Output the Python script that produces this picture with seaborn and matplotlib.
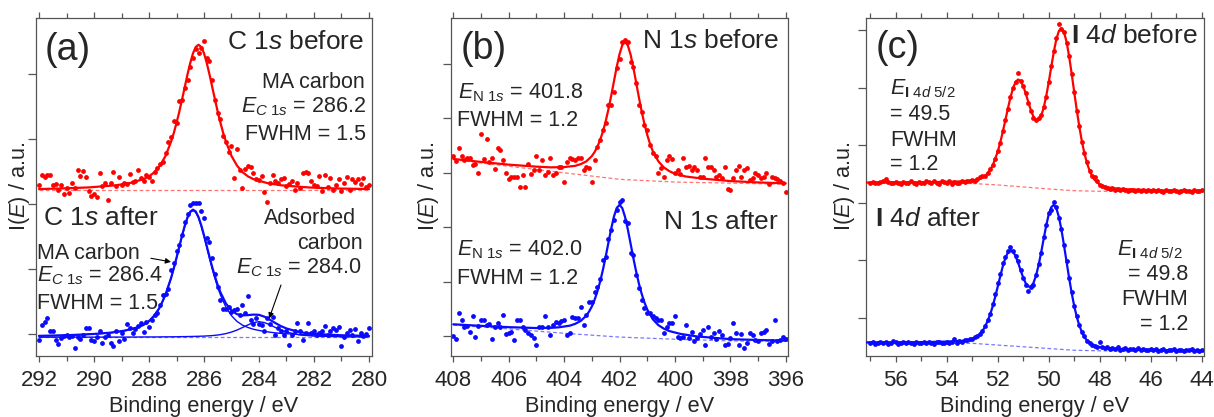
import numpy as np
import pandas as pd
import matplotlib
matplotlib.use("Agg")
import matplotlib.pyplot as plt
from matplotlib.ticker import MultipleLocator, NullFormatter
import seaborn as sns

sns.set_style("ticks")
plt.rcParams["font.family"] = ["Liberation Sans", "DejaVu Sans"]
plt.rcParams["mathtext.fontset"] = "custom"
plt.rcParams["mathtext.rm"] = "Liberation Sans"
plt.rcParams["mathtext.it"] = "Liberation Sans:italic"
plt.rcParams["mathtext.bf"] = "Liberation Sans:bold"

RED = "#ff0000"
BLUE = "#0a0aff"


def grid(a, b):
    # energy grid in 0.1 eV steps, from a down to b
    return list(np.round(np.arange(a, b - 0.05, -0.1), 1))


# ---------------- (a) C 1s ----------------
c1s_before = [2.30, 2.45, 2.41, 2.45, 2.44, 2.30, 2.31, 2.22, 2.30, 2.15,
              2.25, 2.17, 2.33, 2.25, 2.53, 2.43, 2.51, 2.42, 2.20, 2.12,
              2.16, 2.11, 2.47, 2.27, 2.32, 2.06, 2.32, 2.49, 2.27, 2.42,
              2.30, 2.32, 2.31, 2.46, 2.34, 2.36, 2.53, 2.40, 2.36, 2.45,
              2.42, 2.36, 2.50, 2.56, 2.62, 2.64, 2.78, 2.95, 3.03, 3.27,
              3.25, 3.58, 3.60, 3.78, 3.90, 4.10, 4.25, 4.38, 4.33, 4.40,
              4.50, 4.25, 4.20, 3.90, 3.60, 3.40, 3.30, 3.05, 2.95, 2.80,
              2.90, 2.40, 2.85, 2.53, 2.25, 2.54, 2.58, 2.57, 2.48, 2.38,
              2.37, 2.43, 2.19, 2.03, 2.33, 2.44, 2.36, 2.32, 2.39, 2.40,
              2.28, 2.31, 2.36, 2.22, 2.32, 2.25, 2.47, 2.50, 2.48, 2.36,
              2.30, 2.28, 2.43, 2.20, 2.44, 2.26, 2.40, 2.22, 2.30, 2.38,
              2.20, 2.32, 2.42, 2.21, 2.38, 2.34, 2.38, 2.31, 2.40, 2.26,
              2.30]
c1s_after = [-0.09, 0.14, 0.18, 0.25, 0.04, 0.05, -0.09, -0.15, -0.06, -0.03,
             -0.02, -0.05, -0.03, -0.21, -0.04, -0.07, -0.02, 0.09, 0.10, -0.09,
             -0.11, -0.04, 0.04, -0.14, -0.05, -0.01, -0.14, -0.18, 0.04, -0.11,
             0.02, -0.08, 0.16, 0.10, 0.01, 0.07, 0.12, 0.17, 0.03, 0.18,
             0.11, 0.22, 0.29, 0.32, 0.45, 0.60, 0.62, 0.70, 0.98, 1.10,
             1.27, 1.37, 1.52, 1.72, 1.85, 1.98, 2.01, 2.01, 2.01, 1.90,
             1.78, 1.47, 1.42, 1.17, 0.93, 0.73, 0.52, 0.39, 0.39, 0.42,
             0.34, 0.37, 0.39, 0.29, 0.44, 0.33, 0.58, 0.21, 0.16, 0.24,
             0.16, 0.14, 0.04, 0.24, 0.16, 0.26, -0.01, 0.09, 0.04, -0.02,
             0.04, -0.17, -0.01, 0.04, 0.17, 0.04, -0.09, 0.01, 0.17, 0.01,
             0.04, -0.01, 0.01, 0.04, 0.12, -0.01, 0.04, 0.09, 0.06, 0.11,
             -0.18, -0.04, 0.01, 0.06, -0.01, 0.08, -0.10, 0.02, -0.03, 0.00,
             0.10]
c1s_before_fit_x = [292, 291.2, 290.2, 289.2, 288.7, 288.2, 288.0, 287.8, 287.6, 287.4] \
    + grid(287.2, 285.2) + [285.0, 284.8, 284.6, 284.4, 284.2, 283.7, 283.2, 282.2, 281.2, 280]
c1s_before_fit = [2.23, 2.239, 2.255, 2.288, 2.322, 2.382, 2.425, 2.49, 2.591, 2.739,
                  2.956, 3.09, 3.247, 3.417, 3.606, 3.798, 3.993, 4.17, 4.318, 4.416,
                  4.45, 4.416, 4.318, 4.17, 3.993, 3.798, 3.606, 3.417, 3.247, 3.09, 2.956,
                  2.739, 2.591, 2.49, 2.425, 2.382, 2.322, 2.288, 2.255, 2.239, 2.23]
c1s_after_fit_x = [292, 291, 290, 289.4, 288.9, 288.4, 288.2, 288.0, 287.8, 287.6, 287.4, 287.2] \
    + grid(287.1, 285.4) + [285.2, 285.0, 284.8, 284.6, 284.4, 284.2, 284.0, 283.8, 283.6,
                            283.4, 283.2, 283.0, 282.5, 282.0, 281.0, 280.0]
c1s_after_total = [-0.028, -0.019, 0.001, 0.021, 0.051, 0.104, 0.142, 0.199, 0.287, 0.416, 0.606, 0.860,
                   1.009, 1.173, 1.342, 1.512, 1.666, 1.796, 1.883, 1.913, 1.885, 1.80, 1.673, 1.52,
                   1.354, 1.188, 1.027, 0.883, 0.751, 0.64,
                   0.467, 0.362, 0.305, 0.287, 0.291, 0.299, 0.295, 0.266, 0.219, 0.168, 0.121, 0.085,
                   0.026, 0.001, -0.019, -0.029]
c1s_after_ma = [-0.029, -0.021, -0.001, 0.018, 0.048, 0.10, 0.137, 0.194, 0.282, 0.410, 0.599, 0.853,
                1.001, 1.165, 1.333, 1.502, 1.656, 1.785, 1.871, 1.90, 1.871, 1.785, 1.656, 1.502,
                1.333, 1.165, 1.001, 0.853, 0.716, 0.599,
                0.410, 0.282, 0.194, 0.137, 0.10, 0.073, 0.055, 0.040, 0.028, 0.018, 0.010, 0.005,
                -0.009, -0.017, -0.027, -0.034]
c1s_after_ads = [-0.049, -0.048, -0.048, -0.047, -0.047, -0.046, -0.045, -0.045, -0.045, -0.044, -0.043, -0.043,
                 -0.042, -0.042, -0.041, -0.040, -0.040, -0.039, -0.038, -0.037, -0.036, -0.035, -0.033, -0.032,
                 -0.029, -0.027, -0.024, -0.020, -0.015, -0.009,
                 0.007, 0.030, 0.061, 0.10, 0.141, 0.176, 0.19, 0.176, 0.141, 0.10, 0.061, 0.030,
                 -0.015, -0.032, -0.042, -0.045]
c1s_bg_x = [292, 280]
c1s_before_bg = [2.21, 2.21]
c1s_after_bg = [-0.05, -0.05]

# ---------------- (b) N 1s ----------------
n1s_before = [3.31, 3.22, 3.45, 3.30, 3.24, 3.27, 3.28, 3.14, 3.17, 2.99,
              3.72, 3.26, 3.63, 3.19, 3.28, 3.07, 3.45, 3.42, 3.24, 2.99,
              2.88, 2.93, 2.92, 2.93, 2.73, 2.96, 2.73, 3.17, 2.98, 3.05,
              3.31, 3.05, 3.24, 2.96, 3.02, 3.28, 2.96, 2.99, 3.11, 3.11,
              2.84, 3.20, 3.27, 3.25, 3.24, 3.27, 3.28, 3.05, 3.10, 3.08,
              2.84, 3.24, 3.48, 3.60, 3.79, 3.91, 4.25, 4.25, 4.49, 4.92,
              5.10, 5.41, 5.44, 5.41, 5.04, 4.95, 4.65, 4.25, 4.12, 3.88,
              3.79, 3.51, 3.36, 3.30, 2.99, 3.08, 2.93, 3.24, 3.30, 3.25,
              2.99, 3.05, 2.98, 3.27, 3.11, 3.13, 3.05, 3.11, 3.05, 2.93,
              2.93, 3.27, 3.11, 3.10, 3.05, 2.93, 2.96, 2.90, 3.11, 2.71,
              2.68, 2.90, 3.05, 3.13, 2.93, 3.05, 3.08, 2.87, 2.90, 2.99,
              2.96, 2.90, 2.93, 2.99, 2.80, 2.93, 2.90, 2.88, 2.85, 2.82,
              2.64]
n1s_after = [0.00, -0.06, 0.43, 0.30, 0.16, 0.18, 0.08, 0.36, -0.02, 0.18,
             0.29, 0.30, 0.20, 0.22, -0.06, 0.17, 0.23, 0.17, 0.38, 0.03,
             0.06, 0.08, -0.07, 0.29, 0.29, 0.17, 0.11, 0.06, 0.02, -0.04,
             -0.16, 0.17, 0.17, 0.37, 0.16, 0.01, 0.20, 0.26, 0.24, 0.28,
             0.29, 0.02, 0.06, 0.34, 0.33, 0.33, 0.54, 0.20, 0.39, 0.62,
             0.62, 0.80, 0.90, 1.05, 1.40, 1.45, 1.78, 1.95, 2.14, 2.32,
             2.46, 2.50, 2.12, 2.08, 1.52, 1.49, 1.12, 0.88, 0.66, 0.52,
             0.43, 0.42, 0.36, 0.33, 0.29, 0.30, 0.05, 0.17, 0.24, 0.24,
             0.36, -0.01, -0.04, -0.02, 0.20, -0.04, 0.08, -0.10, -0.04, 0.04,
             0.11, -0.16, 0.17, -0.01, 0.05, -0.06, 0.09, 0.01, -0.16, -0.14,
             -0.04, 0.24, 0.06, -0.16, 0.04, -0.22, -0.13, 0.05, 0.01, -0.07,
             -0.10, 0.06, 0.08, 0.11, -0.14, -0.10, 0.29, -0.10, -0.07, -0.01,
             -0.05]
n1s_before_fit_x = [408, 407, 406, 405, 404.5, 404, 403.6, 403.4, 403.2] + grid(403.0, 400.8) \
    + [400.6, 400.4, 400.2, 400.0, 399.6, 399, 398, 397, 396]
n1s_before_fit = [3.255, 3.20, 3.15, 3.113, 3.10, 3.105, 3.128, 3.159, 3.21,
                  3.307, 3.382, 3.477, 3.603, 3.758, 3.947, 4.169, 4.419, 4.686, 4.95, 5.182,
                  5.347, 5.405, 5.342, 5.172, 4.932, 4.659, 4.384, 4.125, 3.895, 3.697, 3.534, 3.399,
                  3.212, 3.098, 3.03, 2.982, 2.931, 2.893, 2.848, 2.823, 2.806]
n1s_after_fit_x = [408, 407, 406, 405, 404.5, 404.2, 403.8, 403.6, 403.4, 403.2] + grid(403.1, 401.0) \
    + [400.8, 400.6, 400.4, 400.2, 399.8, 399.2, 398, 397, 396]
n1s_after_fit = [0.215, 0.186, 0.162, 0.146, 0.149, 0.159, 0.189, 0.223, 0.277, 0.374,
                 0.449, 0.542, 0.666, 0.817, 1.001, 1.216, 1.458, 1.717, 1.974, 2.198, 2.355,
                 2.41, 2.35, 2.187, 1.957, 1.695, 1.43, 1.183, 0.962, 0.773, 0.616, 0.487,
                 0.308, 0.20, 0.135, 0.09, 0.038, -0.009, -0.058, -0.074, -0.085]
n1s_bg_x = [408, 406, 404, 402, 400, 398, 396]
n1s_before_bg = [3.24, 3.12, 3.00, 2.88, 2.83, 2.81, 2.79]
n1s_after_bg = [0.20, 0.13, 0.05, -0.02, -0.06, -0.09, -0.10]

# ---------------- (c) I 4d ----------------
i4d_before = [2.34, 2.36, 2.35, 2.34, 2.36, 2.37, 2.41, 2.36, 2.35, 2.34,
              2.36, 2.35, 2.33, 2.36, 2.34, 2.35, 2.37, 2.35, 2.33, 2.36,
              2.35, 2.34, 2.38, 2.36, 2.34, 2.37, 2.35, 2.33, 2.38, 2.36,
              2.35, 2.38, 2.33, 2.36, 2.35, 2.34, 2.37, 2.36, 2.38, 2.37,
              2.40, 2.38, 2.41, 2.44, 2.46, 2.46, 2.52, 2.58, 2.66, 2.76,
              2.90, 3.03, 3.25, 3.44, 3.62, 3.84, 4.00, 4.10, 4.25, 4.12,
              4.02, 3.90, 3.74, 3.60, 3.47, 3.43, 3.47, 3.52, 3.66, 3.84,
              4.10, 4.37, 4.63, 4.86, 5.10, 5.02, 4.97, 4.78, 4.55, 4.23,
              3.93, 3.60, 3.33, 3.06, 2.87, 2.70, 2.55, 2.47, 2.45, 2.38,
              2.31, 2.29, 2.27, 2.25, 2.24, 2.25, 2.23, 2.24, 2.22, 2.24,
              2.23, 2.21, 2.23, 2.22, 2.20, 2.23, 2.21, 2.22, 2.20, 2.23,
              2.21, 2.22, 2.20, 2.22, 2.21, 2.19, 2.22, 2.20, 2.21, 2.23,
              2.20, 2.19, 2.21, 2.22, 2.20, 2.21, 2.19, 2.22, 2.20, 2.21,
              2.23]
i4d_after = [-0.44, -0.42, -0.45, -0.43, -0.41, -0.44, -0.42, -0.45, -0.43, -0.40,
             -0.42, -0.45, -0.43, -0.42, -0.44, -0.41, -0.43, -0.45, -0.42, -0.44,
             -0.43, -0.41, -0.44, -0.42, -0.43, -0.45, -0.42, -0.41, -0.44, -0.43,
             -0.42, -0.44, -0.41, -0.37, -0.43, -0.40, -0.42, -0.38, -0.39, -0.37,
             -0.36, -0.33, -0.32, -0.27, -0.22, -0.14, -0.04, 0.07, 0.24, 0.42,
             0.60, 0.77, 0.95, 1.06, 1.16, 1.23, 1.16, 1.08, 0.99, 0.83,
             0.69, 0.58, 0.46, 0.54, 0.58, 0.74, 0.93, 1.13, 1.40, 1.62,
             1.82, 1.88, 2.02, 1.92, 1.74, 1.55, 1.26, 0.99, 0.70, 0.45,
             0.20, 0.04, -0.12, -0.25, -0.32, -0.40, -0.44, -0.47, -0.48, -0.50,
             -0.42, -0.51, -0.52, -0.50, -0.53, -0.52, -0.54, -0.51, -0.55, -0.53,
             -0.52, -0.55, -0.54, -0.53, -0.56, -0.52, -0.55, -0.54, -0.56, -0.55,
             -0.53, -0.56, -0.54, -0.57, -0.55, -0.54, -0.57, -0.55, -0.56, -0.54,
             -0.57, -0.55, -0.56, -0.58, -0.55, -0.56, -0.54, -0.57, -0.56, -0.58,
             -0.55]
i4d_before_fit_x = [57.15, 56, 55, 54, 53.5, 53, 52.8, 52.6, 52.4, 52.2] + grid(52.0, 48.2) \
    + [48.0, 47.8, 47.5, 47, 46, 45, 43.9]
i4d_before_fit = [2.352, 2.353, 2.356, 2.363, 2.371, 2.389, 2.402, 2.433, 2.504, 2.645,
                  2.886, 3.048, 3.233, 3.433, 3.638, 3.83, 3.989, 4.097, 4.141, 4.114,
                  4.029, 3.898, 3.75, 3.608, 3.498, 3.436, 3.435, 3.505, 3.644, 3.846,
                  4.09, 4.359, 4.621, 4.841, 4.984, 5.03, 4.962, 4.794, 4.545, 4.244,
                  3.924, 3.612, 3.322, 3.069, 2.859, 2.691, 2.562, 2.466, 2.398,
                  2.317, 2.28, 2.255, 2.236, 2.219, 2.21, 2.204]
i4d_after_fit_x = [57.15, 56, 55, 54, 53.5, 53.3, 53.1, 52.9, 52.7, 52.5] + grid(52.3, 48.5) \
    + [48.3, 48.1, 47.8, 47.3, 46.5, 45.5, 43.9]
i4d_after_fit = [-0.423, -0.422, -0.42, -0.41, -0.399, -0.391, -0.376, -0.347, -0.285, -0.16,
                 0.054, 0.199, 0.364, 0.543, 0.726, 0.899, 1.04, 1.137, 1.177, 1.152,
                 1.076, 0.96, 0.827, 0.70, 0.602, 0.546, 0.545, 0.606, 0.731, 0.91,
                 1.129, 1.368, 1.60, 1.797, 1.923, 1.964, 1.903, 1.753, 1.531, 1.262,
                 0.977, 0.696, 0.436, 0.208, 0.021, -0.129, -0.244, -0.33, -0.391,
                 -0.463, -0.497, -0.52, -0.537, -0.552, -0.56, -0.568]
i4d_bg_x = [57.15, 53, 52, 51, 50, 49, 48, 43.9]
i4d_before_bg = [2.345, 2.335, 2.31, 2.275, 2.24, 2.21, 2.20, 2.195]
i4d_after_bg = [-0.43, -0.44, -0.47, -0.50, -0.53, -0.56, -0.57, -0.575]


def dots(ax, x, y, color):
    sns.scatterplot(x=x, y=y, ax=ax, color=color, s=12, linewidth=0, zorder=2)


def line(ax, x, y, color, lw=1.6, ls="-", alpha=1.0):
    df = pd.DataFrame({"E": x, "I": y})
    sns.lineplot(data=df, x="E", y="I", ax=ax, color=color, lw=lw, ls=ls,
                 alpha=alpha, sort=False, estimator=None, zorder=3)


def base(ax, x, y, color):
    line(ax, x, y, color, lw=0.9, ls=(0, (3, 2)), alpha=0.55)


def style(ax, xlim, ylim, ylab_x):
    ax.set_xlim(*xlim)
    ax.set_ylim(*ylim)
    ax.xaxis.set_major_locator(MultipleLocator(2))
    ax.xaxis.set_minor_locator(MultipleLocator(1))
    ax.yaxis.set_major_locator(MultipleLocator(1))
    ax.yaxis.set_major_formatter(NullFormatter())
    ax.tick_params(axis="x", which="both", direction="out", top=True, bottom=True,
                   color="#555555", width=0.9, labelsize=16, pad=5.5)
    ax.tick_params(axis="x", which="major", length=4.5)
    ax.tick_params(axis="x", which="minor", length=3.5)
    ax.tick_params(axis="y", which="major", direction="out", left=True, right=False,
                   length=5.5, color="#555555", width=0.9)
    for s in ax.spines.values():
        s.set_color("#555555")
        s.set_linewidth(0.9)
    ax.set_xlabel("Binding energy / eV", fontsize=15.7, labelpad=3.5)
    ax.set_ylabel(r"I($\mathit{E}$) / a.u.", fontsize=15.7)
    ax.yaxis.set_label_coords(ylab_x, 0.5)


def txt(ax, x, y, s, ha="left", size=15.5):
    ax.text(x, y, s, transform=ax.transAxes, ha=ha, va="baseline", fontsize=size)


fig = plt.figure(figsize=(12.14, 4.17), dpi=100)
H = 338.5 / 417
B = 61 / 417
ax_a = fig.add_axes([36 / 1214, B, 336 / 1214, H])
ax_b = fig.add_axes([450.7 / 1214, B, 337 / 1214, H])
ax_c = fig.add_axes([866 / 1214, B, 338 / 1214, H])

# panel a
dots(ax_a, np.linspace(292, 280, len(c1s_before)), c1s_before, RED)
dots(ax_a, np.linspace(292, 280, len(c1s_after)), c1s_after, BLUE)
base(ax_a, c1s_bg_x, c1s_before_bg, RED)
base(ax_a, c1s_bg_x, c1s_after_bg, BLUE)
line(ax_a, c1s_before_fit_x, c1s_before_fit, RED)
line(ax_a, c1s_after_fit_x, c1s_after_ma, BLUE, lw=1.0)
line(ax_a, c1s_after_fit_x, c1s_after_ads, BLUE, lw=1.0)
line(ax_a, c1s_after_fit_x, c1s_after_total, BLUE)
style(ax_a, (292.11, 279.89), (-0.338, 4.869), -0.012)
txt(ax_a, 0.027, 0.875, "(a)", size=27)
txt(ax_a, 0.976, 0.908, r"C $\mathit{1s}$ before", ha="right", size=19)
txt(ax_a, 0.979, 0.792, "MA carbon", ha="right")
txt(ax_a, 0.982, 0.721, r"$\mathit{E}_{\mathit{C\ 1s}}$ = 286.2", ha="right")
txt(ax_a, 0.982, 0.639, "FWHM = 1.5", ha="right")
txt(ax_a, 0.02, 0.386, r"C $\mathit{1s}$ after", size=19)
txt(ax_a, 0.003, 0.288, "MA carbon")
txt(ax_a, 0.003, 0.219, r"$\mathit{E}_{\mathit{C\ 1s}}$ = 286.4")
txt(ax_a, 0.003, 0.14, "FWHM = 1.5")
txt(ax_a, 0.952, 0.389, "Adsorbed", ha="right")
txt(ax_a, 0.972, 0.315, "carbon", ha="right")
txt(ax_a, 0.969, 0.244, r"$\mathit{E}_{\mathit{C\ 1s}}$ = 284.0", ha="right")
arrow = dict(arrowstyle="-|>", color="black", lw=0.8, mutation_scale=8, shrinkA=0, shrinkB=0)
ax_a.annotate("", xy=(287.2, 1.11), xytext=(287.93, 1.165), arrowprops=arrow)
ax_a.annotate("", xy=(283.63, 0.24), xytext=(283.2, 0.754), arrowprops=arrow)

# panel b
dots(ax_b, np.linspace(408, 396, len(n1s_before)), n1s_before, RED)
dots(ax_b, np.linspace(408, 396, len(n1s_after)), n1s_after, BLUE)
base(ax_b, n1s_bg_x, n1s_before_bg, RED)
base(ax_b, n1s_bg_x, n1s_after_bg, BLUE)
line(ax_b, n1s_before_fit_x, n1s_before_fit, RED)
line(ax_b, n1s_after_fit_x, n1s_after_fit, BLUE)
style(ax_b, (408.094, 395.93), (-0.368, 5.855), -0.028)
txt(ax_b, 0.028, 0.878, "(b)", size=27)
txt(ax_b, 0.975, 0.91, r"N $\mathit{1s}$ before", ha="right", size=19)
txt(ax_b, 0.023, 0.762, r"$\mathit{E}_{\mathrm{N}\ \mathit{1s}}$ = 401.8")
txt(ax_b, 0.02, 0.68, "FWHM = 1.2")
txt(ax_b, 0.975, 0.375, r"N $\mathit{1s}$ after", ha="right", size=19)
txt(ax_b, 0.02, 0.296, r"$\mathit{E}_{\mathrm{N}\ \mathit{1s}}$ = 402.0")
txt(ax_b, 0.02, 0.212, "FWHM = 1.2")

# panel c
dots(ax_c, np.linspace(57, 44, len(i4d_before)), i4d_before, RED)
dots(ax_c, np.linspace(57, 44, len(i4d_after)), i4d_after, BLUE)
base(ax_c, i4d_bg_x, i4d_before_bg, RED)
base(ax_c, i4d_bg_x, i4d_after_bg, BLUE)
line(ax_c, i4d_before_fit_x, i4d_before_fit, RED)
line(ax_c, i4d_after_fit_x, i4d_after_fit, BLUE)
style(ax_c, (57.165, 43.91), (-0.66, 5.217), -0.026)
txt(ax_c, 0.027, 0.88, "(c)", size=27)
txt(ax_c, 0.983, 0.925, r"$\mathbf{I}$ $\mathit{4d}$ before", ha="right", size=19)
txt(ax_c, 0.071, 0.772, r"$\mathit{E}_{\mathbf{I}\ \mathit{4d\ 5/2}}$")
txt(ax_c, 0.071, 0.696, "= 49.5")
txt(ax_c, 0.071, 0.619, "FWHM")
txt(ax_c, 0.071, 0.55, "= 1.2")
txt(ax_c, 0.027, 0.383, r"$\mathbf{I}$ $\mathit{4d}$ after", size=19)
txt(ax_c, 0.937, 0.296, r"$\mathit{E}_{\mathbf{I}\ \mathit{4d\ 5/2}}$", ha="right")
txt(ax_c, 0.954, 0.225, "= 49.8", ha="right")
txt(ax_c, 0.954, 0.151, "FWHM", ha="right")
txt(ax_c, 0.954, 0.077, "= 1.2", ha="right")

fig.savefig("out.png", dpi=100)
